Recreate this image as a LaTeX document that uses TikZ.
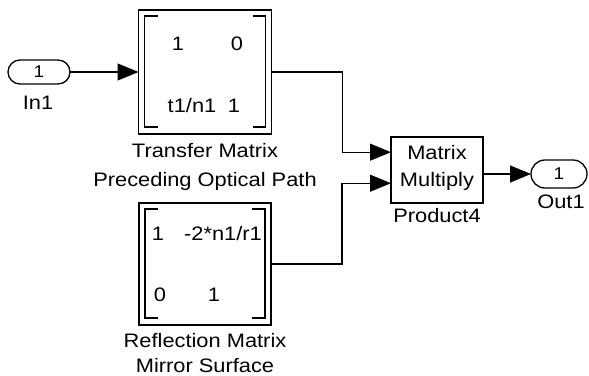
\documentclass[tikz,border=0pt]{standalone}
\usepackage{fontspec}
\setmainfont[FakeStretch=1.12]{Liberation Sans}
\usetikzlibrary{arrows.meta,calc}
\begin{document}
\begin{tikzpicture}[x=1pt,y=-1pt,
  blk/.style={draw,line width=1.7pt,inner sep=0pt,outer sep=0pt},
  port/.style={draw,line width=1.3pt,inner sep=0pt,outer sep=0pt,font=\fontsize{17}{20}\selectfont},
  brk/.style={line width=1.5pt},
  wire/.style={line width=1.2pt},
  arr/.style={wire,-{Triangle[length=21pt,width=17pt]}},
  txt/.style={font=\fontsize{19.5}{24}\selectfont,inner sep=0pt,anchor=base},
]
\useasboundingbox (0,0) rectangle (589,375);
% ports
\node[port,minimum width=62pt,minimum height=24pt,rounded corners=12pt] (In1) at (39,72) {1};
\node[txt] (In1l) at (38,109) {In1};
\node[port,minimum width=56pt,minimum height=28pt,rounded corners=14pt] (Out1) at (559,174) {1};
\node[txt] (Out1l) at (561,208) {Out1};
% blocks
\node[blk,minimum width=133pt,minimum height=124pt] (T) at (205,72) {};
\node[blk,minimum width=132pt,minimum height=122pt] (R) at (205,264) {};
\node[blk,minimum width=92pt,minimum height=66pt] (P) at (437,170) {};
% brackets
\foreach \n in {T,R}{
  \draw[brk] ($(\n.north west)+(19,6)$) -- ++(-13,0) -- ($(\n.south west)+(6,-7)$) -- ++(13,0);
  \draw[brk] ($(\n.north east)+(-19,6)$) -- ++(13,0) -- ($(\n.south east)+(-6,-7)$) -- ++(-13,0);
}
% matrix entries
\node[txt] (t11) at (178,50) {1};
\node[txt] (t12) at (237,50) {0};
\node[txt] (t21) at (192,112) {t1/n1};
\node[txt] (t22) at (234,112) {1};
\node[txt] (r11) at (158,240) {1};
\node[txt] (r12) at (223,240) {-2*n1/r1};
\node[txt] (r21) at (160,301) {0};
\node[txt] (r22) at (214,301) {1};
\node[txt] (Pt1) at (437,159) {Matrix};
\node[txt] (Pt2) at (437,186) {Multiply};
% labels
\node[txt] (Tl1) at (205,157) {Transfer Matrix};
\node[txt] (Tl2) at (205,186) {Preceding Optical Path};
\node[txt] (Rl1) at (205,347) {Reflection Matrix};
\node[txt] (Rl2) at (205,372) {Mirror Surface};
\node[txt] (Pl) at (437,222) {Product4};
% wires
\coordinate (P1) at ($(P.north west)!0.23!(P.south west)$);
\coordinate (P2) at ($(P.north west)!0.70!(P.south west)$);
\draw[arr] (In1.east) -- (In1.east -| T.west);
\draw[arr] (T.east) -- ++(71,0) |- (P1);
\draw[arr] (R.east) -- ++(71,0) |- (P2);
\draw[arr] (Out1.west -| P.east) -- (Out1.west);
\end{tikzpicture}
\end{document}
